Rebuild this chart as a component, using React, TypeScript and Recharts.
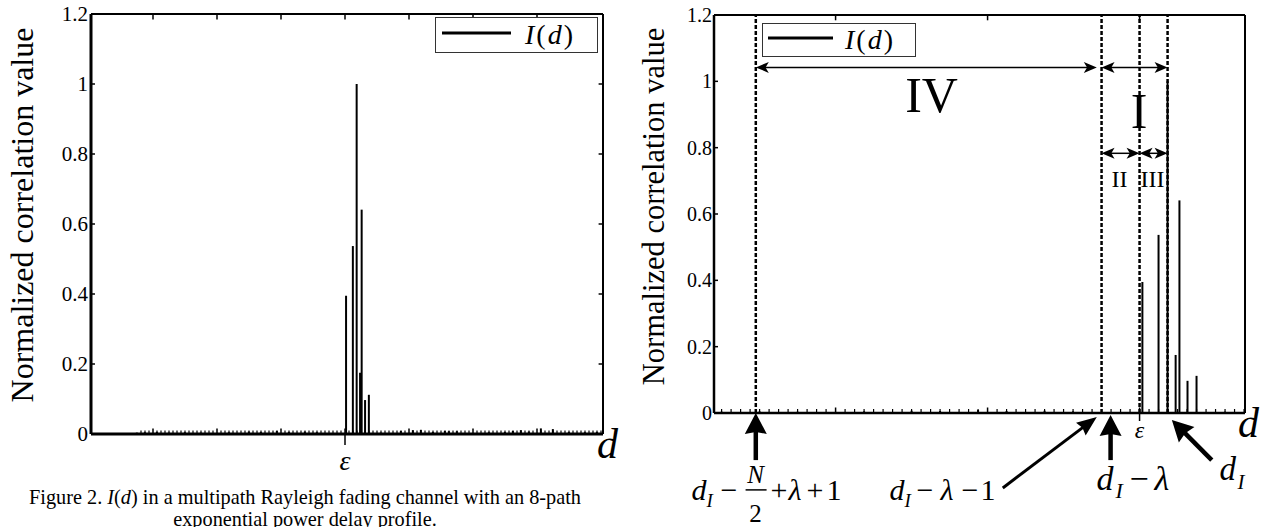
import React from 'react'
import { ComposedChart, Bar, XAxis, YAxis, ReferenceLine, ReferenceDot, Legend, Label } from 'recharts'

const SERIF = '"Liberation Serif", "Times New Roman", Times, serif'
const INK = '#000'

// I(d) around the timing point, d in samples with epsilon at 0
const peakD = [0.3, 2.0, 2.95, 3.8, 4.2, 5.05, 6.0]
const peakV = [0.395, 0.537, 1.0, 0.175, 0.641, 0.097, 0.112]

// small residual correlation away from the peak
const floorD = [-52, -50, -47, -44, -40, -36, -29, -24, -21, -17, -14, -10, -7, 9, 14, 17, 19, 22, 25, 26, 28, 36, 40, 42, 44, 46, 49, 52, 56, 60, 63]
const floorV = [0.004, 0.005, 0.006, 0.004, 0.005, 0.004, 0.005, 0.007, 0.006, 0.009, 0.006, 0.007, 0.005, 0.004, 0.009, 0.011, 0.012, 0.006, 0.009, 0.008, 0.008, 0.005, 0.006, 0.009, 0.011, 0.007, 0.016, 0.014, 0.006, 0.005, 0.006]

const yTicks = [0, 0.2, 0.4, 0.6, 0.8, 1, 1.2]
const leftTicks = [-48, -32, -16, 0, 16, 32, 48]
const rightTicks = [-32, -16, 0]

const steps = (a: number, b: number) => Array.from({ length: b - a + 1 }, (_, i) => a + i)
const leftMinor = steps(-51, 64)
const rightMinor = steps(-44, 11)

// right panel: region boundaries
const dStart = -40.4 // d_I - N/2 + lambda + 1
const dGuard = -4 // d_I - lambda - 1
const dEps = 0
const dPeak = 2.95 // d_I
const dLam = -3.05 // d_I - lambda

const series = [
  ...peakD.map((d, i) => ({ d, v: peakV[i] })),
  ...floorD.map((d, i) => ({ d, v: floorV[i] })),
].sort((a, b) => a.d - b.d)

const stem = (w: number) => (p: any) => {
  if (!(p.height > 0)) return <g />
  const cx = p.x + p.width / 2
  return <line x1={cx} x2={cx} y1={p.y} y2={p.y + p.height} stroke={INK} strokeWidth={w} />
}

const arrow = (shaft: number, head: number, hw: number, both = false, notch = 0.75) => (p: any) => {
  const { x1, y1, x2, y2 } = p
  const len = Math.hypot(x2 - x1, y2 - y1) || 1
  const ux = (x2 - x1) / len
  const uy = (y2 - y1) / len
  const nx = (-uy * hw) / 2
  const ny = (ux * hw) / 2
  const tip = (tx: number, ty: number, sx: number, sy: number) => {
    const bx = tx - sx * head
    const by = ty - sy * head
    const kx = tx - sx * head * notch
    const ky = ty - sy * head * notch
    return `${tx},${ty} ${bx + nx},${by + ny} ${kx},${ky} ${bx - nx},${by - ny}`
  }
  const inset = head * 0.7
  return (
    <g>
      <line
        x1={both ? x1 + ux * inset : x1}
        y1={both ? y1 + uy * inset : y1}
        x2={x2 - ux * inset}
        y2={y2 - uy * inset}
        stroke={INK}
        strokeWidth={shaft}
      />
      <polygon points={tip(x2, y2, ux, uy)} fill={INK} />
      {both && <polygon points={tip(x1, y1, -ux, -uy)} fill={INK} />}
    </g>
  )
}

type Piece = { t: string; dx: number; dy?: number; size: number; it?: boolean; mid?: boolean }

const math = (pieces: Piece[], bar?: [number, number, number]) => (p: any) => (
  <g>
    {pieces.map((q, i) => (
      <text
        key={i}
        x={p.cx + q.dx}
        y={p.cy + (q.dy || 0)}
        fontSize={q.size}
        fontStyle={q.it ? 'italic' : 'normal'}
        textAnchor={q.mid ? 'middle' : 'start'}
        fontFamily={SERIF}
        fill={INK}
      >
        {q.t}
      </text>
    ))}
    {bar && <line x1={p.cx + bar[0]} x2={p.cx + bar[1]} y1={p.cy + bar[2]} y2={p.cy + bar[2]} stroke={INK} strokeWidth={1.5} />}
  </g>
)

// bottom axis: inward minor/major ticks, plus the epsilon mark below the axis
const BottomTick = (p: any) => {
  const { x, y, payload, majors, size, drop, base, minor } = p
  const v = payload?.value
  const up = majors.includes(v) ? 5.5 : minor
  return (
    <g>
      <line x1={x} x2={x} y1={y} y2={y - up} stroke={INK} strokeWidth={majors.includes(v) ? 1.5 : 1.2} />
      {v === 0 && (
        <>
          <line x1={x} x2={x} y1={y} y2={y + drop} stroke={INK} strokeWidth={1.5} />
          <text x={x} y={y + base} textAnchor="middle" fontStyle="italic" fontSize={size} fontFamily={SERIF} fill={INK}>
            ε
          </text>
        </>
      )}
    </g>
  )
}

const yTitle = (x: number, cy: number, size: number) => () => (
  <text x={x} y={cy} transform={`rotate(-90 ${x} ${cy})`} textAnchor="middle" fontFamily={SERIF} fontSize={size} fill={INK}>
    Normalized correlation value
  </text>
)

const dTitle = (x: number, y: number, size: number) => () => (
  <text x={x} y={y} fontStyle="italic" fontSize={size} fontFamily={SERIF} fill={INK}>
    d
  </text>
)

const legendBox = (w: number, h: number, l1: number, l2: number, ly: number, tx: number, ty: number) => () => (
  <div style={{ width: w, height: h, boxSizing: 'border-box', border: '1px solid #333', background: '#fff' }}>
    <svg width={w - 2} height={h - 2} style={{ display: 'block' }}>
      <line x1={l1} x2={l2} y1={ly} y2={ly} stroke={INK} strokeWidth={3} />
      <text x={tx} y={ty} fontFamily={SERIF} fontSize={28} letterSpacing={2} fill={INK}>
        <tspan fontStyle="italic">I</tspan>(<tspan fontStyle="italic">d</tspan>)
      </text>
    </svg>
  </div>
)

// short inward tick marks on the top and right frame edges
const tickSeg = (key: string, a: { x: number; y: number }, b: { x: number; y: number }) => (
  <ReferenceLine key={key} xAxisId="b" yAxisId="l" ifOverflow="visible" segment={[a, b]} stroke={INK} strokeWidth={1.5} />
)

function LeftPanel() {
  const dom: [number, number] = [-63.5, 64.5]
  return (
    <ComposedChart width={640} height={527} data={series} margin={{ top: 13, right: 36, bottom: 92, left: 0 }}>
      <XAxis
        xAxisId="b"
        dataKey="d"
        type="number"
        domain={dom}
        allowDataOverflow
        ticks={leftMinor}
        interval={0}
        height={1}
        tickSize={0}
        tickMargin={0}
        axisLine={{ stroke: INK, strokeWidth: 3 }}
        tickLine={false}
        tick={<BottomTick majors={leftTicks} minor={3.5} size={28} drop={11} base={36} />}
      >
        <Label content={dTitle(597, 458, 42)} />
      </XAxis>
      <XAxis
        xAxisId="t"
        orientation="top"
        dataKey="d"
        type="number"
        domain={dom}
        allowDataOverflow
        height={1}
        axisLine={{ stroke: INK, strokeWidth: 2 }}
        tickLine={false}
        tick={false}
      />
      <YAxis
        yAxisId="l"
        type="number"
        domain={[0, 1.2]}
        allowDataOverflow
        ticks={yTicks}
        interval={0}
        width={91}
        tickSize={-4}
        tickMargin={7}
        axisLine={{ stroke: INK, strokeWidth: 3 }}
        tickLine={{ stroke: INK, strokeWidth: 1.5 }}
        tick={{ fill: INK, fontSize: 21, fontFamily: SERIF }}
      >
        <Label content={yTitle(33, 215, 32)} />
      </YAxis>
      <YAxis
        yAxisId="r"
        orientation="right"
        type="number"
        domain={[0, 1.2]}
        allowDataOverflow
        width={1}
        axisLine={{ stroke: INK, strokeWidth: 2 }}
        tickLine={false}
        tick={false}
      />
      <Legend
        layout="horizontal"
        verticalAlign="middle"
        align="center"
        wrapperStyle={{ left: 435, top: 17, width: 163 }}
        content={legendBox(163, 36, 6, 75, 15, 89, 26)}
      />
      {leftTicks.map((t) => tickSeg('top' + t, { x: t, y: 1.2 }, { x: t, y: 1.184 }))}
      {yTicks.slice(1, -1).map((v) => tickSeg('rt' + v, { x: dom[1], y: v }, { x: dom[1] - 1.1, y: v }))}
      <Bar xAxisId="b" yAxisId="l" dataKey="v" name="I(d)" shape={stem(2)} isAnimationActive={false} />
    </ComposedChart>
  )
}

const spans = [
  { from: dStart, to: dGuard - 0.5, v: 1.042 }, // IV
  { from: dGuard, to: dPeak, v: 1.042 }, // I
  { from: dGuard, to: dEps, v: 0.783 }, // II
  { from: dEps, to: dPeak, v: 0.783 }, // III
]

const regionLabels = [
  { t: 'IV', d: -21.9, v: 0.907, size: 50 },
  { t: 'I', d: -0.05, v: 0.858, size: 50 },
  { t: 'II', d: -2.1, v: 0.681, size: 24 },
  { t: 'III', d: 1.37, v: 0.681, size: 24 },
]

const pointers = [
  { a: [dStart, -0.142], b: [dStart, 0], w: 4.5, head: 21, hw: 22 },
  { a: [-14.4, -0.226], b: [-4.5, -0.012], w: 3, head: 20, hw: 16 },
  { a: [dLam, -0.142], b: [dLam, -0.006], w: 4.5, head: 21, hw: 22 },
  { a: [7.6, -0.142], b: [3.4, -0.021], w: 4.5, head: 21, hw: 22 },
]

const formulas: { d: number; v: number; pieces: Piece[]; bar?: [number, number, number] }[] = [
  {
    d: -47.16,
    v: -0.262,
    pieces: [
      { t: 'd', dx: 0, size: 30, it: true },
      { t: 'I', dx: 15, dy: 7, size: 19, it: true },
      { t: '−', dx: 29, size: 30 },
      { t: 'N', dx: 64, dy: -17, size: 25, it: true, mid: true },
      { t: '2', dx: 64, dy: 22, size: 25, mid: true },
      { t: '+', dx: 79, size: 30 },
      { t: 'λ', dx: 97, size: 30, it: true },
      { t: '+', dx: 115, size: 30 },
      { t: '1', dx: 135, size: 30 },
    ],
    bar: [54, 75, -10],
  },
  {
    d: -26.32,
    v: -0.262,
    pieces: [
      { t: 'd', dx: 0, size: 30, it: true },
      { t: 'I', dx: 15, dy: 7, size: 19, it: true },
      { t: '−', dx: 27, size: 30 },
      { t: 'λ', dx: 51, size: 30, it: true },
      { t: '−', dx: 72, size: 30 },
      { t: '1', dx: 91, size: 30 },
    ],
  },
  {
    d: -4.53,
    v: -0.232,
    pieces: [
      { t: 'd', dx: 0, size: 34, it: true },
      { t: 'I', dx: 19, dy: 8, size: 22, it: true },
      { t: '−', dx: 33, size: 34 },
      { t: 'λ', dx: 58, size: 34, it: true },
    ],
  },
  {
    d: 8.42,
    v: -0.202,
    pieces: [
      { t: 'd', dx: 0, size: 33, it: true },
      { t: 'I', dx: 18, dy: 9, size: 21, it: true },
    ],
  },
]

function RightPanel() {
  const dom: [number, number] = [-44.8, 11.1]
  return (
    <ComposedChart width={628} height={527} data={series} margin={{ top: 14, right: 22, bottom: 113, left: 0 }}>
      <XAxis
        xAxisId="b"
        dataKey="d"
        type="number"
        domain={dom}
        allowDataOverflow
        ticks={rightMinor}
        interval={0}
        height={1}
        tickSize={0}
        tickMargin={0}
        axisLine={{ stroke: INK, strokeWidth: 2.5 }}
        tickLine={false}
        tick={<BottomTick majors={rightTicks} minor={4} size={24} drop={8} base={25} />}
      >
        <Label content={dTitle(598, 437, 42)} />
      </XAxis>
      <XAxis
        xAxisId="t"
        orientation="top"
        dataKey="d"
        type="number"
        domain={dom}
        allowDataOverflow
        height={1}
        axisLine={{ stroke: INK, strokeWidth: 2 }}
        tickLine={false}
        tick={false}
      />
      <YAxis
        yAxisId="l"
        type="number"
        domain={[0, 1.2]}
        allowDataOverflow
        ticks={yTicks}
        interval={0}
        width={74}
        tickSize={-4}
        tickMargin={6}
        axisLine={{ stroke: INK, strokeWidth: 2.5 }}
        tickLine={{ stroke: INK, strokeWidth: 1.5 }}
        tick={{ fill: INK, fontSize: 20, fontFamily: SERIF }}
      >
        <Label content={yTitle(24, 206.5, 30.5)} />
      </YAxis>
      <YAxis
        yAxisId="r"
        orientation="right"
        type="number"
        domain={[0, 1.2]}
        allowDataOverflow
        width={1}
        axisLine={{ stroke: INK, strokeWidth: 2 }}
        tickLine={false}
        tick={false}
      />
      <Legend
        layout="horizontal"
        verticalAlign="middle"
        align="center"
        wrapperStyle={{ left: 122, top: 23, width: 154 }}
        content={legendBox(154, 34, 5, 70, 14, 82, 25)}
      />
      {rightTicks.map((t) => tickSeg('top' + t, { x: t, y: 1.2 }, { x: t, y: 1.184 }))}
      {[dStart, dGuard, dEps, dPeak].map((d) => (
        <ReferenceLine key={d} x={d} xAxisId="b" yAxisId="l" stroke={INK} strokeWidth={2.5} strokeDasharray="4 2" />
      ))}
      {spans.map((s, i) => (
        <ReferenceLine
          key={'s' + i}
          xAxisId="b"
          yAxisId="l"
          ifOverflow="visible"
          segment={[{ x: s.from, y: s.v }, { x: s.to, y: s.v }]}
          shape={arrow(1.5, 13, 11, true)}
        />
      ))}
      {regionLabels.map((r) => (
        <ReferenceDot
          key={r.t}
          x={r.d}
          y={r.v}
          xAxisId="b"
          yAxisId="l"
          ifOverflow="visible"
          shape={math([{ t: r.t, dx: 0, size: r.size, mid: true }])}
        />
      ))}
      {pointers.map((p, i) => (
        <ReferenceLine
          key={'p' + i}
          xAxisId="b"
          yAxisId="l"
          ifOverflow="visible"
          segment={[{ x: p.a[0], y: p.a[1] }, { x: p.b[0], y: p.b[1] }]}
          shape={arrow(p.w, p.head, p.hw, false, 0.9)}
        />
      ))}
      {formulas.map((f, i) => (
        <ReferenceDot
          key={'f' + i}
          x={f.d}
          y={f.v}
          xAxisId="b"
          yAxisId="l"
          ifOverflow="visible"
          shape={math(f.pieces, f.bar)}
        />
      ))}
      <Bar xAxisId="b" yAxisId="l" dataKey="v" name="I(d)" shape={stem(2)} isAnimationActive={false} />
    </ComposedChart>
  )
}

export default function App() {
  return (
    <div style={{ position: 'absolute', left: 0, top: 0, width: 1268, height: 527, background: '#fff', overflow: 'hidden', fontFamily: SERIF }}>
      <div style={{ position: 'absolute', left: 0, top: 0 }}>
        <LeftPanel />
      </div>
      <div style={{ position: 'absolute', left: 640, top: 0 }}>
        <RightPanel />
      </div>
      <div
        style={{
          position: 'absolute',
          left: 0,
          top: 486,
          width: 610,
          textAlign: 'center',
          fontSize: 20.3,
          lineHeight: '22px',
          whiteSpace: 'nowrap',
          color: INK,
        }}
      >
        Figure 2. <i>I</i>(<i>d</i>) in a multipath Rayleigh fading channel with an 8-path
        <br />
        exponential power delay profile.
      </div>
    </div>
  )
}
